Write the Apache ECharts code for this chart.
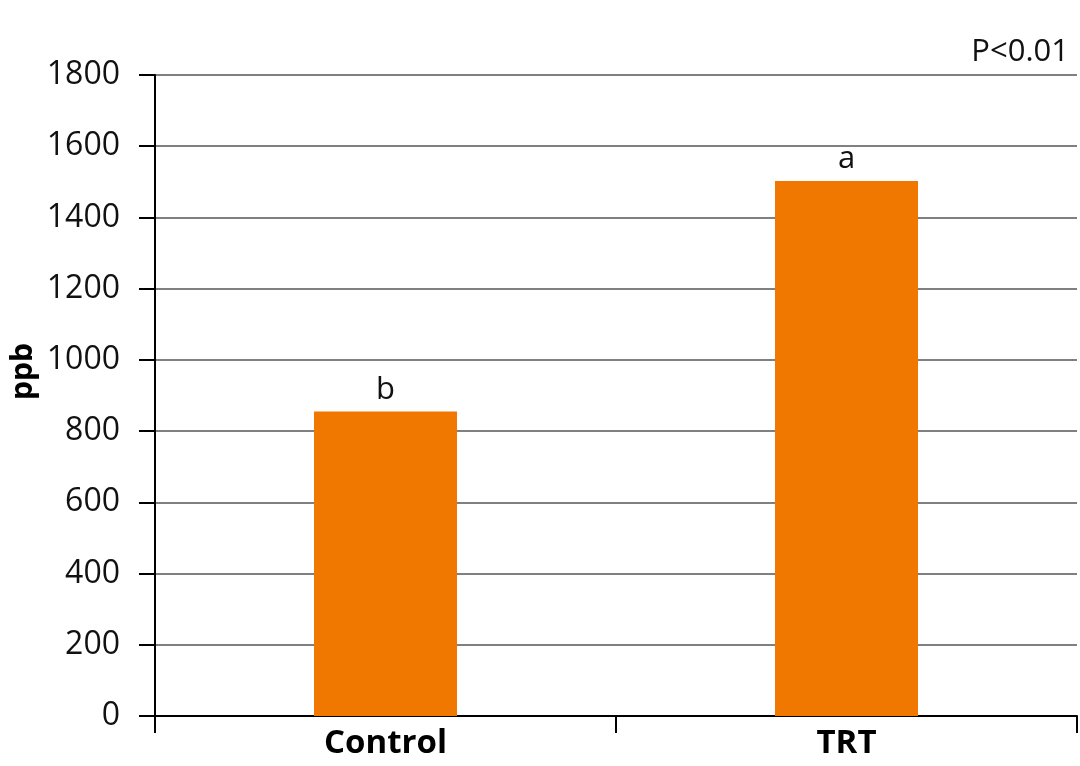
<!DOCTYPE html>
<html>
<head>
<meta charset="utf-8">
<script src="https://cdn.jsdelivr.net/npm/echarts@6/dist/echarts.min.js"></script>
<style>
  html, body { margin: 0; padding: 0; background: #fff; }
  #chart { width: 1080px; height: 766px; }
</style>
</head>
<body>
<div id="chart"></div>
<script>
const categories = ["Control", "TRT"];
const values = [855, 1502];
const letters = ["b", "a"];
const yTicks = { min: 0, max: 1800, interval: 200 };
const note = "P<0.01";
const yName = "ppb";

const chart = echarts.init(document.getElementById("chart"));
const option = {
  animation: false,
  textStyle: { fontFamily: "Open Sans" },
  title: {
    text: note,
    right: 6,
    top: 32,
    textStyle: { fontSize: 31, fontWeight: "normal", color: "#111", fontFamily: "Open Sans" },
  },
  graphic: [
    {
      type: "text",
      left: 8,
      top: 343,
      rotation: Math.PI / 2,
      originX: 0,
      originY: 0,
      style: {
        text: yName,
        font: "bold 30px 'Open Sans'",
        fill: "#000",
      },
    },
  ],
  grid: { left: 155, right: 3, top: 75, bottom: 50, outerBoundsMode: "none", containLabel: false },
  xAxis: {
    type: "category",
    data: categories,
    axisLine: { lineStyle: { color: "#000", width: 2 } },
    axisTick: { show: true, length: 17, lineStyle: { color: "#000", width: 2 } },
    axisLabel: { fontSize: 33, fontWeight: "bold", color: "#000", margin: 11 },
  },
  yAxis: {
    type: "value",
    min: yTicks.min,
    max: yTicks.max,
    interval: yTicks.interval,
    axisLine: { show: true, lineStyle: { color: "#000", width: 2 } },
    axisTick: { show: true, length: 16, lineStyle: { color: "#000", width: 2 } },
    axisLabel: { fontSize: 32, color: "#111", margin: 35, formatter: (v) => String(v) },
    splitLine: { lineStyle: { color: "#808080", width: 2 } },
  },
  series: [
    {
      type: "bar",
      data: values,
      barWidth: 143,
      itemStyle: { color: "#f07800" },
      label: {
        show: true,
        position: "top",
        distance: 6,
        fontSize: 31,
        color: "#111",
        formatter: (p) => letters[p.dataIndex],
      },
    },
  ],
};
chart.setOption(option);
</script>
</body>
</html>
